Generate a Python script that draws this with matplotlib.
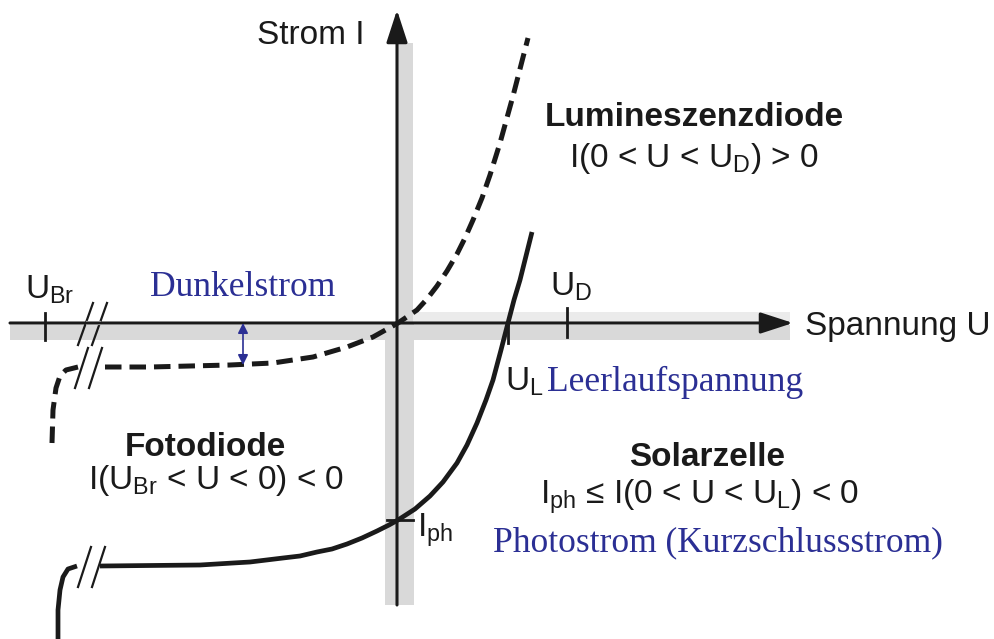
import numpy as np
import matplotlib.pyplot as plt
from matplotlib.patches import Rectangle

plt.rcParams['font.family'] = ['Liberation Sans', 'DejaVu Sans']
plt.rcParams['mathtext.fontset'] = 'custom'
plt.rcParams['mathtext.rm'] = 'Liberation Sans'
plt.rcParams['mathtext.it'] = 'Liberation Sans'

# dark characteristic (LED / photodiode without light), U and I in arbitrary units
u_dark_hook = [-3.46, -3.45, -3.42, -3.38, -3.32, -3.20]
i_dark_hook = [-1.20, -0.87, -0.65, -0.53, -0.47, -0.44]
u_dark = [-2.93, -2.48, -2.08, -1.68, -1.25, -0.85, -0.51, -0.25, 0.00,
          0.19, 0.29, 0.39, 0.49, 0.59, 0.67, 0.75, 0.84, 0.92, 1.02, 1.15, 1.30]
i_dark = [-0.44, -0.44, -0.43, -0.42, -0.40, -0.34, -0.24, -0.14, 0.00,
          0.13, 0.24, 0.37, 0.52, 0.69, 0.85, 1.03, 1.25, 1.48, 1.80, 2.27, 2.85]

# illuminated characteristic (solar cell)
u_light_hook = [-3.40, -3.40, -3.38, -3.35, -3.30, -3.21]
i_light_hook = [-3.16, -2.87, -2.67, -2.54, -2.46, -2.43]
u_light = [-2.98, -1.98, -1.65, -1.48, -1.15, -0.98, -0.81, -0.66, -0.51,
           -0.36, -0.21, -0.09, 0.00, 0.17, 0.32, 0.45, 0.59, 0.69, 0.79,
           0.88, 0.95, 1.03, 1.10, 1.16, 1.22, 1.28, 1.34]
i_light = [-2.43, -2.42, -2.40, -2.39, -2.35, -2.33, -2.29, -2.26, -2.21,
           -2.15, -2.08, -2.02, -1.97, -1.86, -1.73, -1.59, -1.40, -1.22, -1.00,
           -0.77, -0.57, -0.27, 0.00, 0.23, 0.43, 0.67, 0.91]

U_Br = -3.53
U_D = 1.69
U_L = 1.10
I_ph = -1.97
I_dark = -0.42

ink = '#1a1a1a'
blue = '#2b2f94'

fig = plt.figure(figsize=(9.95, 6.39), dpi=100)
ax = fig.add_axes([0, 0, 1, 1])
ax.set_xlim(-3.98, 5.97)
ax.set_ylim(-3.16, 3.23)
ax.axis('off')

# grey shading along the axes
ax.add_patch(Rectangle((-3.88, -0.17), 7.80, 0.15, color='#d9d9d9', lw=0))
ax.add_patch(Rectangle((0.0, 0.01), 3.92, 0.10, color='#ebebeb', lw=0))
ax.add_patch(Rectangle((0.0, 0.0), 0.15, 2.80, color='#d9d9d9', lw=0))
ax.add_patch(Rectangle((-0.13, -2.82), 0.29, 2.82, color='#d9d9d9', lw=0))

# axes with arrow heads
arrow = dict(arrowstyle='-|>,head_length=2.0,head_width=0.65', lw=2.2,
             color=ink, shrinkA=0, shrinkB=0)
ax.annotate('', xy=(3.95, 0), xytext=(-3.88, 0), arrowprops=arrow)
ax.annotate('', xy=(-0.01, 3.13), xytext=(-0.01, -2.82), arrowprops=arrow)

# tick marks
ax.plot([U_Br, U_Br], [0.10, -0.17], color=ink, lw=2)
ax.plot([U_D, U_D], [0.15, -0.14], color=ink, lw=2)
ax.plot([U_L, U_L], [0.0, -0.20], color=ink, lw=2)
ax.plot([-0.11, 0.15], [I_ph, I_ph], color=ink, lw=2)

# axis break marks
for du in (0.0, 0.14):
    ax.plot([-3.20 + du, -3.05 + du], [-0.22, 0.20], color=ink, lw=1.6)
    ax.plot([-3.23 + du, -3.10 + du], [-0.65, -0.25], color=ink, lw=1.6)
    ax.plot([-3.20 + du, -3.07 + du], [-2.64, -2.24], color=ink, lw=1.6)
ax.plot([-3.10, -2.99], [0, 0], color='white', lw=3)

# curves
dash = (0, (3.3, 1.6))
ax.plot(u_dark_hook, i_dark_hook, color=ink, lw=3.6, ls=dash)
ax.plot(u_dark, i_dark, color=ink, lw=3.6, ls=dash)
ax.plot(u_light_hook, i_light_hook, color=ink, lw=3.4, solid_capstyle='butt',
        solid_joinstyle='round')
ax.plot(u_light, i_light, color=ink, lw=3.4, solid_capstyle='butt',
        solid_joinstyle='round')

# dark current marker
ax.annotate('', xy=(-1.55, I_dark), xytext=(-1.55, 0.0),
            arrowprops=dict(arrowstyle='<|-|>,head_length=0.6,head_width=0.3',
                            lw=1.2, color=blue, shrinkA=0, shrinkB=0))

fs = 24
ax.text(-0.87, 2.87, 'Strom I', fontsize=fs, color=ink, ha='center', va='center')
ax.text(4.07, -0.03, 'Spannung U', fontsize=fs, color=ink, ha='left', va='center')
ax.text(2.96, 2.05, 'Lumineszenzdiode', fontsize=fs, fontweight='bold',
        color=ink, ha='center', va='center')
ax.text(2.96, 1.65, r'I(0 < U < U$_\mathrm{D}$) > 0', fontsize=fs, color=ink,
        ha='center', va='center')
ax.text(-3.73, 0.33, r'U$_\mathrm{Br}$', fontsize=fs, color=ink, ha='left', va='center')
ax.text(1.52, 0.36, r'U$_\mathrm{D}$', fontsize=fs, color=ink, ha='left', va='center')
ax.text(1.07, -0.59, r'U$_\mathrm{L}$', fontsize=fs, color=ink, ha='left', va='center')
ax.text(0.19, -2.07, r'I$_\mathrm{ph}$', fontsize=fs, color=ink, ha='left', va='center')
ax.text(-1.93, -1.24, 'Fotodiode', fontsize=fs, fontweight='bold',
        color=ink, ha='center', va='center')
ax.text(-1.82, -1.58, r'I(U$_\mathrm{Br}$ < U < 0) < 0', fontsize=fs, color=ink,
        ha='center', va='center')
ax.text(3.09, -1.34, 'Solarzelle', fontsize=fs, fontweight='bold',
        color=ink, ha='center', va='center')
ax.text(3.02, -1.74, 'I$_\\mathrm{ph}$ \u2264 I(0 < U < U$_\\mathrm{L}$) < 0',
        fontsize=fs, color=ink, ha='center', va='center')

serif = dict(family='Liberation Serif', fontsize=25.6, color=blue, va='center')
ax.text(-2.48, 0.36, 'Dunkelstrom', ha='left', **serif)
ax.text(1.49, -0.59, 'Leerlaufspannung', ha='left', **serif)
ax.text(0.95, -2.20, 'Photostrom (Kurzschlussstrom)', ha='left', **serif)

fig.savefig('out.png', dpi=100)
